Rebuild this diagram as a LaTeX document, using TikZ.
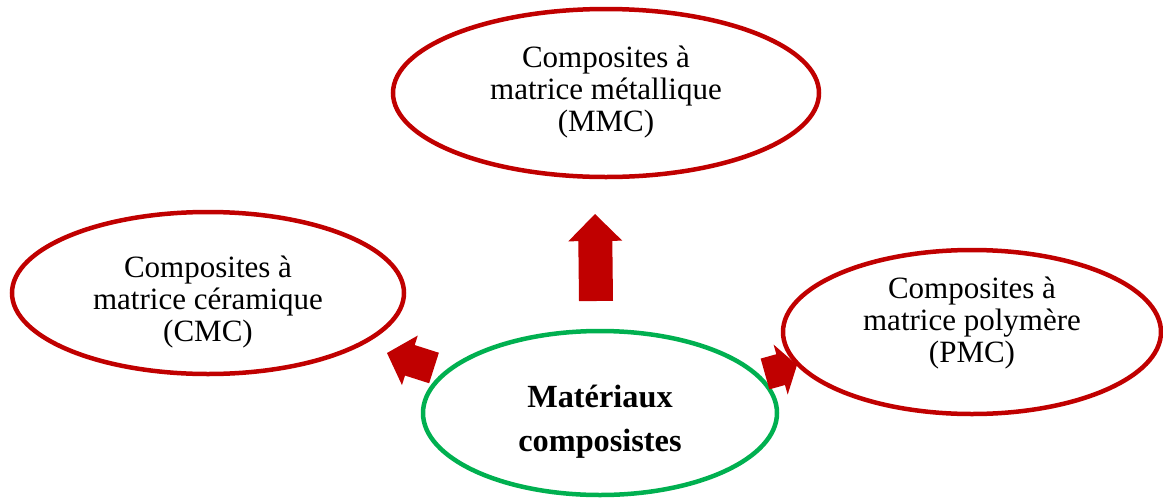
\documentclass[tikz,border=0pt]{standalone}
\usepackage{fontspec}
\setmainfont{Liberation Serif}
\usetikzlibrary{shapes.geometric,calc}
\definecolor{darkred}{HTML}{C00000}
\definecolor{kgreen}{HTML}{00B050}
\tikzset{
  oval/.style={ellipse, draw=darkred, line width=4.5pt, inner sep=0pt},
  core/.style={ellipse, draw=kgreen, line width=4.5pt, inner sep=0pt},
  label/.style={align=center, font=\fontsize{31}{32}\selectfont, inner sep=0pt},
  biglabel/.style={align=center, font=\bfseries\fontsize{32.3}{44}\selectfont, inner sep=0pt},
  block/.style={fill=darkred}
}
% block arrow from #1 (tail) to #2 (tip): shaft half width #3, head half width #4, head length #5
\newcommand{\blockarrow}[5]{%
  \coordinate (ba-b) at ($(#2)!#5pt!(#1)$);
  \fill[block] ($(#1)!#3pt!90:(#2)$) -- ($(ba-b)!#3pt!-90:(#1)$) -- ($(ba-b)!#4pt!-90:(#1)$)
    -- (#2) -- ($(ba-b)!#4pt!90:(#1)$) -- ($(ba-b)!#3pt!90:(#1)$) -- ($(#1)!#3pt!-90:(#2)$) -- cycle;
}
\begin{document}
\begin{tikzpicture}[x=1pt,y=-1pt]
\useasboundingbox (0,0) rectangle (1163,499);

\node[oval, minimum width=426pt, minimum height=168pt] (mmc) at (606,93) {};
\node[oval, minimum width=392pt, minimum height=162pt] (cmc) at (208,293) {};
\node[oval, minimum width=378pt, minimum height=164pt] (pmc) at (972,332) {};
\node[core, minimum width=354pt, minimum height=164pt] (mat) at (600,413) {};

\node[label] (tmmc) at (606,92) {Composites à\\matrice métallique\\(MMC)};
\node[label] (tcmc) at (208,302) {Composites à\\matrice céramique\\(CMC)};
\node[label] (tpmc) at (972,323) {Composites à\\matrice polymère\\(PMC)};
\node[biglabel] (tmat) at (600,422) {Matériaux\\composistes};

% arrows pointing from the core outwards
\coordinate (up-t) at (596,301);
\coordinate (up-h) at (595,214);
\coordinate (lf-t) at (434,368);
\coordinate (lf-h) at (387,353);
\coordinate (rt-t) at (765,374);
\coordinate (rt-h) at (797,365);
\blockarrow{up-t}{up-h}{17}{27}{27}
\blockarrow{lf-t}{lf-h}{16}{26}{24}
\blockarrow{rt-t}{rt-h}{16}{26}{17}
\end{tikzpicture}
\end{document}
